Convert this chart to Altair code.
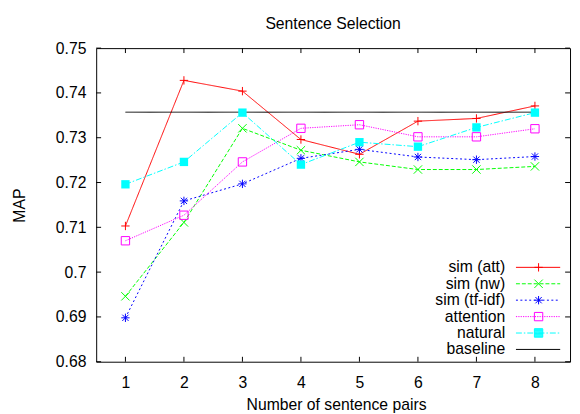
import altair as alt
import pandas as pd

# ---------------- data ----------------
x_vals = [1, 2, 3, 4, 5, 6, 7, 8]
sim_att = [0.7103, 0.7428, 0.7404, 0.7296, 0.7263, 0.7337, 0.7343, 0.7371]
sim_nw = [0.6946, 0.7111, 0.7321, 0.7272, 0.7246, 0.7229, 0.7229, 0.7236]
sim_tfidf = [0.6898, 0.7159, 0.7197, 0.7254, 0.7274, 0.7257, 0.7251, 0.7258]
attention = [0.7070, 0.7127, 0.7246, 0.7321, 0.7329, 0.7302, 0.7302, 0.7320]
natural = [0.7196, 0.7246, 0.7356, 0.7240, 0.7290, 0.7280, 0.7323, 0.7356]
baseline_x = [1, 8]
baseline_val = 0.7357

series_names = ["sim (att)", "sim (nw)", "sim (tf-idf)", "attention", "natural", "baseline"]
x_ticks = [1, 2, 3, 4, 5, 6, 7, 8]
y_ticks = [0.68, 0.69, 0.70, 0.71, 0.72, 0.73, 0.74, 0.75]

# ---------------- styles ----------------
series_colors = ["#ff0000", "#00ff00", "#0000ff", "#ff00ff", "#00ffff", "#000000"]
dash_patterns = [[1, 0], [4, 2], [2, 2.5], [1.2, 1.2], [6, 2, 1.5, 2], [1, 0]]
FONT = "Liberation Sans"
W, H = 482, 319

rows = []
for name, vals in zip(series_names[:5], [sim_att, sim_nw, sim_tfidf, attention, natural]):
    for x, v in zip(x_vals, vals):
        rows.append({"x": x, "v": v, "series": name})
for x in baseline_x:
    rows.append({"x": x, "v": baseline_val, "series": "baseline"})
df = pd.DataFrame(rows)

xscale = alt.Scale(domain=[0.5, 8.6], nice=False, zero=False)
yscale = alt.Scale(domain=[0.68, 0.75], nice=False, zero=False)
color_scale = alt.Scale(domain=series_names, range=series_colors)
dash_scale = alt.Scale(domain=series_names, range=dash_patterns)

# plot markers (unit = symbol radius)
marker_series = ["sim (att)", "sim (nw)", "sim (tf-idf)", "attention"]
marker_paths = [
    "M-1,0L1,0M0,-1L0,1",
    "M-1,-1L1,1M-1,1L1,-1",
    "M-1,0L1,0M0,-1L0,1M-0.75,-0.75L0.75,0.75M-0.75,0.75L0.75,-0.75",
    "square",
]

# legend symbols: line sample + marker drawn to the right of right-aligned labels
R = 5.0            # px per path unit for symbolSize 100
SYM_C = 8.0        # symbol centre in legend entry
LABEL_OFF = 75.0
label_right = 16.0 + LABEL_OFF
u1 = (label_right + 11 - SYM_C) / R
u2 = (label_right + 56 - SYM_C) / R
uc = (label_right + 34 - SYM_C) / R
m = 4.24 / R


def dashed(pattern):
    if pattern[1] == 0:
        return f"M{u1:.2f},0L{u2:.2f},0"
    parts = []
    pos, i = u1, 0
    while pos < u2:
        seg = pattern[i % len(pattern)] / R
        end = min(pos + seg, u2)
        if i % 2 == 0:
            parts.append(f"M{pos:.2f},0L{end:.2f},0")
        pos += seg
        i += 1
    return "".join(parts)


def mk_plus():
    return f"M{uc-m:.2f},0L{uc+m:.2f},0M{uc:.2f},{-m:.2f}L{uc:.2f},{m:.2f}"


def mk_x():
    return (f"M{uc-m:.2f},{-m:.2f}L{uc+m:.2f},{m:.2f}"
            f"M{uc-m:.2f},{m:.2f}L{uc+m:.2f},{-m:.2f}")


def mk_star():
    d = 0.75 * m
    return mk_plus() + (f"M{uc-d:.2f},{-d:.2f}L{uc+d:.2f},{d:.2f}"
                        f"M{uc-d:.2f},{d:.2f}L{uc+d:.2f},{-d:.2f}")


def mk_square():
    return (f"M{uc-m:.2f},{-m:.2f}L{uc+m:.2f},{-m:.2f}L{uc+m:.2f},{m:.2f}"
            f"L{uc-m:.2f},{m:.2f}Z")


def mk_filled_square():
    s = mk_square()
    y = -m
    while y <= m + 1e-6:
        s += f"M{uc-m:.2f},{y:.2f}L{uc+m:.2f},{y:.2f}"
        y += 0.16
    return s


legend_paths = [
    dashed(dash_patterns[0]) + mk_plus(),
    dashed(dash_patterns[1]) + mk_x(),
    dashed(dash_patterns[2]) + mk_star(),
    dashed(dash_patterns[3]) + mk_square(),
    dashed(dash_patterns[4]) + mk_filled_square(),
    dashed(dash_patterns[5]),
]

x_axis = alt.Axis(orient="bottom", values=x_ticks, title="Number of sentence pairs",
                  grid=False, ticks=False, tickSize=0, domain=False, labelFontSize=16,
                  labelPadding=26, labelBaseline="alphabetic", labelColor="black",
                  labelFlush=False, titleFontSize=16, titleFontWeight="normal",
                  titleColor="black", titleX=244, titleY=48.7,
                  titleBaseline="alphabetic", titleAlign="center")
y_axis = alt.Axis(orient="left", values=y_ticks, format=".2~f", title="MAP", grid=False,
                  ticks=False, tickSize=0, domain=False, labelFontSize=16,
                  labelPadding=10.4, labelBaseline="middle", labelColor="black",
                  labelFlush=False, titleFontSize=16, titleFontWeight="normal",
                  titleColor="black", titleAngle=270, titleX=-73.4, titleY=159.7,
                  titleBaseline="alphabetic", titleAlign="center")

X = alt.X("x:Q", scale=xscale, axis=x_axis)
Y = alt.Y("v:Q", scale=yscale, axis=y_axis)

lines = alt.Chart(df).mark_line(strokeWidth=1).encode(
    x=X, y=Y,
    color=alt.Color("series:N", scale=color_scale, legend=None),
    strokeDash=alt.StrokeDash("series:N", scale=dash_scale, legend=None),
)

open_pts = alt.Chart(df).transform_filter(
    alt.FieldOneOfPredicate(field="series", oneOf=marker_series)
).mark_point(filled=False, size=72, strokeWidth=1, opacity=1).encode(
    x=X, y=Y,
    color=alt.Color("series:N", scale=color_scale, legend=None),
    shape=alt.Shape("series:N", scale=alt.Scale(domain=marker_series, range=marker_paths),
                    legend=None),
)

nat_pts = alt.Chart(df).transform_filter(
    alt.datum.series == "natural"
).mark_square(filled=True, size=72, opacity=1).encode(
    x=X, y=Y,
    color=alt.Color("series:N", scale=color_scale, legend=None),
)

xt = pd.DataFrame({"x": x_ticks})
yt = pd.DataFrame({"v": y_ticks})
tick_top = alt.Chart(xt).mark_rule(color="black", strokeWidth=1).encode(
    x=X, y=alt.value(0), y2=alt.value(5))
tick_bot = alt.Chart(xt).mark_rule(color="black", strokeWidth=1).encode(
    x=X, y=alt.value(H), y2=alt.value(H - 5))
tick_left = alt.Chart(yt).mark_rule(color="black", strokeWidth=1).encode(
    y=Y, x=alt.value(0), x2=alt.value(5))
tick_right = alt.Chart(yt).mark_rule(color="black", strokeWidth=1).encode(
    y=Y, x=alt.value(W - 5), x2=alt.value(W))

leg_df = pd.DataFrame({"series": series_names})
legend_layer = alt.Chart(leg_df).mark_point(filled=False, opacity=0, size=100,
                                            strokeWidth=1).encode(
    shape=alt.Shape("series:N", scale=alt.Scale(domain=series_names, range=legend_paths),
                    legend=alt.Legend(title=None)),
    color=alt.Color("series:N", scale=color_scale, legend=alt.Legend(title=None)),
)

chart = alt.layer(
    lines, open_pts, nat_pts, tick_top, tick_bot, tick_left, tick_right, legend_layer
).resolve_scale(
    color="independent", shape="independent", strokeDash="independent"
).resolve_axis(
    x="shared", y="shared"
).properties(
    width=W, height=H,
    autosize=alt.AutoSizeParams(type="none"),
    padding={"left": 89.7, "top": 37.3, "right": 2, "bottom": 52},
    title=alt.TitleParams("Sentence Selection", fontSize=16, fontWeight="normal",
                          color="black", anchor="middle", baseline="alphabetic",
                          offset=16, dy=20.5),
).configure(
    font=FONT
).configure_view(
    stroke="black", strokeWidth=1
).configure_legend(
    orient="none", legendX=325, legendY=215, labelFontSize=16, labelColor="black",
    labelAlign="right", labelOffset=LABEL_OFF, labelBaseline="middle",
    symbolSize=100, symbolStrokeWidth=1, symbolOpacity=1, rowPadding=0.7,
    padding=0, labelLimit=300, symbolOffset=0
)

chart.save("out.html", embed_options={"renderer": "svg", "actions": False})
